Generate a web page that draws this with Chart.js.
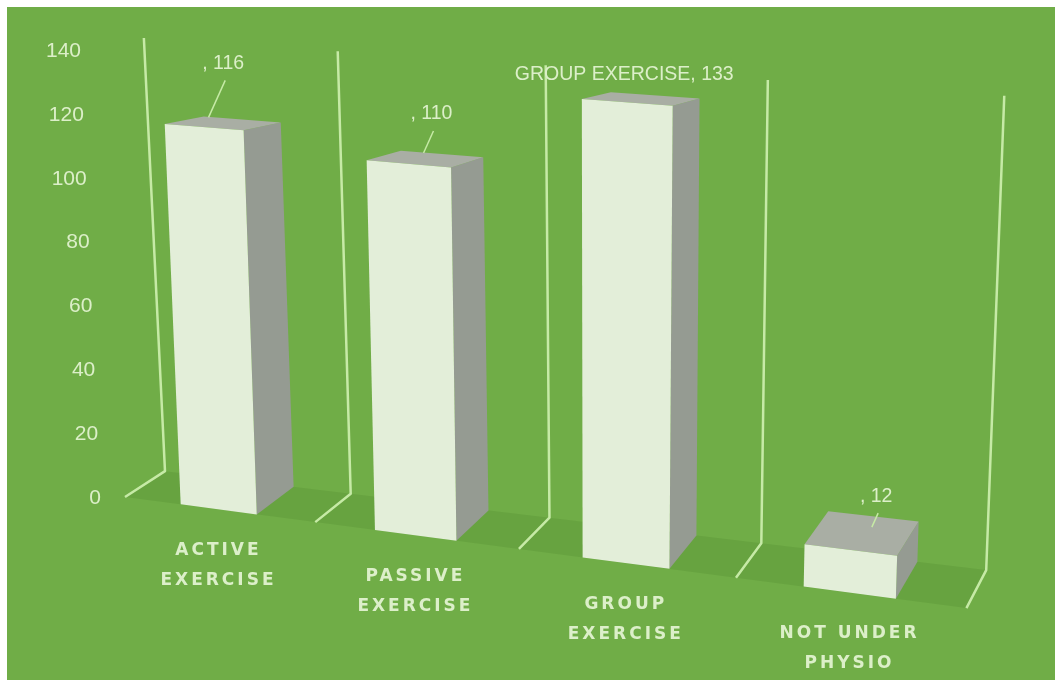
<!DOCTYPE html>
<html>
<head>
<meta charset="utf-8">
<title>Physiotherapy</title>
<script src="https://cdn.jsdelivr.net/npm/chart.js@4.4.0/dist/chart.umd.min.js"></script>
<style>
  html, body { margin: 0; padding: 0; background: #fff; }
  canvas { display: block; }
</style>
</head>
<body>
<canvas id="physio-chart" width="1055" height="680"></canvas>
<script>
const categories = [
  ["ACTIVE", "EXERCISE"],
  ["PASSIVE", "EXERCISE"],
  ["GROUP", "EXERCISE"],
  ["NOT UNDER", "PHYSIO"],
];
const patients = [116, 110, 133, 12];
const labelPrefix = ["", "", "GROUP EXERCISE", ""];
const yTicks = [0, 20, 40, 60, 80, 100, 120, 140];

// label placement relative to the top face of each box
const labelShift = [[0, -60], [6, -45], [-17, -24], [14, -37]];
const labelLeader = [true, true, false, true];

const GREEN = "#70ad47";
const INK = "#dcefc9";
const WALL_LINE = "#c6eaa6";
const FACE_FRONT = "#e3eed9";
const FACE_SIDE = "#959b92";
const FACE_TOP = "#a9aea4";

// flat chart pixels -> tilted 3d-looking view
function makeView(chart) {
  const L = chart.chartArea.left;
  const top = chart.chartArea.top;
  const y0 = chart.scales.y.getPixelForValue(0);
  function warp(px, py) {
    const u = px - L;
    const x = L + 0.869 * u + 0.00015 * u * u;
    const h = (y0 - py) * (1.02 + 0.00013 * (x - L));
    return { x: x + 0.0001 * (x - L - 475) * h, y: y0 + 0.132 * (x - L) - h };
  }
  function depth(p) {
    return {
      x: p.x + 40 - 0.024 * (p.x - L),
      y: p.y - (3.5 + 0.05 * (p.y - top)) * (1 + 0.00025 * (p.x - L)),
    };
  }
  return { warp, depth };
}

function poly(ctx, pts, fill) {
  ctx.beginPath();
  ctx.moveTo(pts[0].x, pts[0].y);
  for (let i = 1; i < pts.length; i++) ctx.lineTo(pts[i].x, pts[i].y);
  ctx.closePath();
  ctx.fillStyle = fill;
  ctx.fill();
}

const perspective3d = {
  id: "perspective3d",
  beforeDraw(chart) {
    const { ctx, width, height } = chart;
    ctx.save();
    ctx.fillStyle = "#ffffff";
    ctx.fillRect(0, 0, width, height);
    ctx.fillStyle = GREEN;
    ctx.fillRect(7, 7, width - 7, height - 7);
    ctx.restore();
  },
  beforeDatasetDraw() {
    return false;
  },
  afterDatasetsDraw(chart) {
    const { ctx, chartArea } = chart;
    const xs = chart.scales.x;
    const ys = chart.scales.y;
    const { warp, depth } = makeView(chart);
    const band = (chartArea.right - chartArea.left) / categories.length;
    const y0 = ys.getPixelForValue(0);
    const yTop = ys.getPixelForValue(yTicks[yTicks.length - 1]);

    ctx.save();

    // floor and category walls
    const feet = [];
    const bends = [];
    const tops = [];
    for (let i = 0; i <= categories.length; i++) {
      const px = xs.getPixelForValue(0) - band / 2 + i * band;
      const foot = warp(px, y0);
      feet.push(foot);
      bends.push(depth(foot));
      tops.push(depth(warp(px, yTop)));
    }
    poly(ctx, feet.concat(bends.slice().reverse()), "rgba(30, 80, 10, 0.10)");

    ctx.strokeStyle = WALL_LINE;
    ctx.lineWidth = 2.5;
    ctx.lineJoin = "round";
    for (let i = 0; i < feet.length; i++) {
      ctx.beginPath();
      ctx.moveTo(feet[i].x, feet[i].y);
      ctx.lineTo(bends[i].x, bends[i].y);
      ctx.lineTo(tops[i].x, tops[i].y);
      ctx.stroke();
    }

    // value axis
    ctx.fillStyle = INK;
    ctx.font = "21px 'Liberation Sans', sans-serif";
    ctx.textAlign = "right";
    ctx.textBaseline = "middle";
    yTicks.forEach((v) => {
      const py = ys.getPixelForValue(v);
      const right = chartArea.left - 44 + 20 * (py - yTop) / (y0 - yTop);
      ctx.fillText(String(v), right, py + 1);
    });

    // boxes
    const meta = chart.getDatasetMeta(0);
    meta.data.forEach((bar, i) => {
      const { x, y, base, width } = bar.getProps(["x", "y", "base", "width"], true);
      const fl = warp(x - width / 2, y);
      const fr = warp(x + width / 2, y);
      const br = warp(x + width / 2, base);
      const bl = warp(x - width / 2, base);
      const tl = depth(fl);
      const tr = depth(fr);
      const rb = depth(br);
      poly(ctx, [fr, tr, rb, br], FACE_SIDE);
      poly(ctx, [fl, fr, tr, tl], FACE_TOP);
      poly(ctx, [fl, fr, br, bl], FACE_FRONT);

      // value label
      const cx = (fl.x + fr.x + tr.x + tl.x) / 4;
      const cy = (fl.y + fr.y + tr.y + tl.y) / 4;
      const lx = cx + labelShift[i][0];
      const ly = cy + labelShift[i][1];
      ctx.fillStyle = INK;
      ctx.font = "19.5px 'Liberation Sans', sans-serif";
      ctx.textAlign = "center";
      ctx.textBaseline = "middle";
      ctx.fillText(`${labelPrefix[i]}, ${patients[i]}`, lx, ly);
      if (labelLeader[i]) {
        const sy = ly + 17;
        const ey = cy - 6;
        ctx.strokeStyle = WALL_LINE;
        ctx.lineWidth = 1.5;
        ctx.beginPath();
        ctx.moveTo(lx + 2, sy);
        ctx.lineTo(lx + 2 - 0.45 * (ey - sy), ey);
        ctx.stroke();
      }

      // category label under the box
      const foot = warp(x, base);
      ctx.font = "bold 17px 'DejaVu Sans', sans-serif";
      ctx.letterSpacing = "3px";
      categories[i].forEach((line, k) => {
        ctx.fillText(line, foot.x, foot.y + 41 + k * 30);
      });
      ctx.letterSpacing = "0px";
    });

    ctx.restore();
  },
};

const ctx = document.getElementById("physio-chart").getContext("2d");
const physioChart = new Chart(ctx, {
  type: "bar",
  data: {
    labels: categories,
    datasets: [
      {
        label: "Patients",
        data: patients,
        backgroundColor: FACE_FRONT,
        categoryPercentage: 1,
        barPercentage: 0.4,
      },
    ],
  },
  options: {
    responsive: false,
    animation: false,
    layout: { padding: { left: 125, right: 85, top: 50, bottom: 183 } },
    plugins: {
      legend: { display: false },
      tooltip: { enabled: false },
    },
    scales: {
      x: { display: false },
      y: { display: false, min: 0, max: 140 },
    },
  },
  plugins: [perspective3d],
});
</script>
</body>
</html>
